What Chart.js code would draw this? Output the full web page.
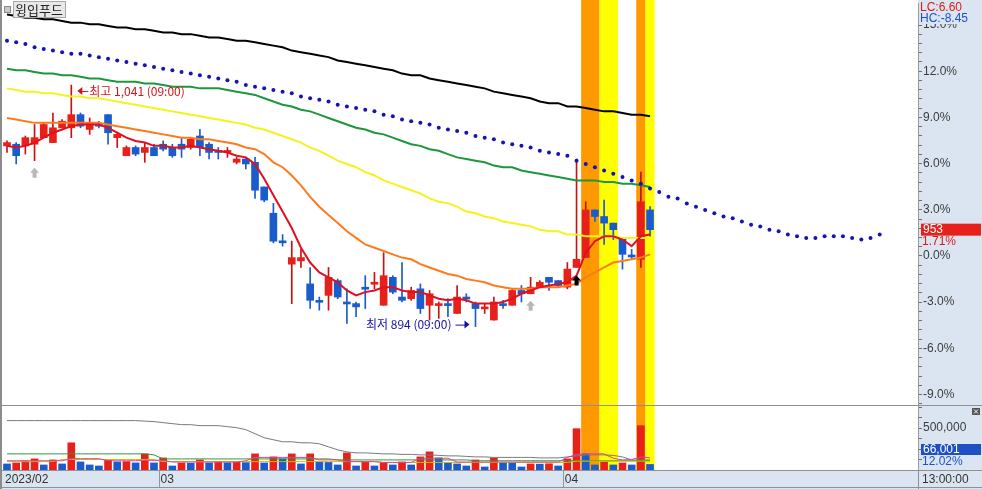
<!DOCTYPE html>
<html lang="ko">
<head>
<meta charset="utf-8">
<title>윙입푸드</title>
<script src="https://cdn.jsdelivr.net/npm/chart.js@4.4.1/dist/chart.umd.min.js"></script>
<style>
  html, body { margin: 0; padding: 0; background: #fff; }
  #wrap { position: relative; width: 982px; height: 489px; overflow: hidden; }
  #price { position: absolute; left: 0; top: 0; }
  #volume { position: absolute; left: 0; top: 406px; }
</style>
</head>
<body>
<div id="wrap">
  <canvas id="price" width="982" height="406"></canvas>
  <canvas id="volume" width="982" height="83"></canvas>
</div>
<script>
'use strict';
// chart values (prices in won, one entry per bar)
let stockName = '윙입푸드'
let basePrice = 937
let openP = [1004,1005,1004,1005,1009,1006,1015,1015,1023,1014, 1017,1023,1009,998,1003,1000,1003,1005,1003,1005, 1003,1010,1005,1001,1000,994,996,994,979,963, 946,932,934,920,910,913,922,909,908,918, 920,907,924,912,911,917,907,907,908,902, 912,908,905,898,908,907,916,914,918,924, 922,918,930,936,965,961,957,948,937,935, 965]
let highP = [1007,1006,1010,1017,1018,1024,1020,1041,1024,1021, 1019,1023,1012,1004,1004,1006,1005,1007,1005,1009, 1009,1014,1006,1003,1003,997,997,997,979,969, 950,946,941,930,912,930,923,917,909,925, 927,939,925,933,918,920,916,909,911,919, 914,909,908,912,910,917,919,924,922,924, 922,933,996,970,965,971,957,948,941,988, 967]
let lowP = [1000,993,999,995,1009,1006,1015,1009,1015,1011, 1015,1005,1003,998,998,994,998,1001,997,997, 1002,998,996,996,997,993,990,972,970,945, 943,908,930,905,904,904,911,896,900,905, 917,907,914,909,910,902,898,899,900,902, 909,894,902,898,905,907,909,914,918,916, 918,917,930,936,958,944,947,929,935,930, 949]
let closeP = [1006,998,1009,1009,1017,1015,1019,1023,1016,1018, 1016,1012,1011,1003,999,1003,998,1002,998,1002, 1008,1003,1000,1000,1001,996,993,977,971,946, 945,936,936,910,909,924,912,908,906,917, 921,925,915,910,916,905,914,908,907,912, 911,905,906,909,907,916,914,918,921,921, 919,929,935,965,961,957,953,938,936,970, 953]

// moving averages
let ma5 = [1004,1003,1004,1006,1009,1012,1014,1016,1017,1017, 1017,1015,1012,1009,1007,1006,1004,1004,1003,1003, 1004,1003,1002,1001,1000,998,997,993,984,974, 964,954,942,933,927,924,921,916,913,915, 916,918,918,916,915,915,913,911,910,911, 910,908,908,908,909,911,914,916,918,919, 920,921,925,939,946,949,949,947,943,949, 950]
let ma20 = [1021,1020,1019,1018,1018,1018,1018,1018,1018,1018, 1018,1017,1016,1015,1014,1013,1012,1011,1010,1009, 1009,1008,1008,1007,1006,1005,1003,1002,999,994, 991,986,980,973,967,962,957,952,948,944, 942,940,938,936,935,932,930,928,926,925, 923,922,921,919,918,917,917,917,918,918, 918,919,920,924,927,930,933,934,935,936, 938]
let ma60 = [1039,1038,1037,1037,1036,1036,1035,1034,1034,1033, 1033,1032,1031,1030,1029,1028,1027,1026,1025,1024, 1023,1022,1021,1020,1019,1018,1017,1015,1014,1012, 1010,1008,1006,1003,1001,998,995,993,991,988, 986,983,981,979,977,975,972,970,969,967, 964,963,961,960,958,957,956,955,953,952, 952,950,950,949,949,949,949,948,948,948, 948]
let ma120 = [1051,1050,1050,1049,1048,1048,1047,1047,1046,1045, 1045,1044,1043,1043,1043,1042,1042,1041,1040,1040, 1040,1039,1039,1039,1038,1037,1036,1035,1033,1031, 1029,1028,1026,1025,1023,1021,1019,1017,1015,1014, 1012,1011,1009,1007,1005,1004,1002,1001,999,997, 996,995,994,992,991,991,989,988,987,986, 985,984,983,983,983,982,982,981,981,980, 979]
let ma240 = [1084,1083,1082,1082,1081,1081,1080,1079,1079,1078, 1078,1077,1076,1076,1075,1075,1074,1073,1073,1072, 1072,1071,1070,1070,1069,1068,1068,1067,1066,1065, 1064,1062,1061,1060,1059,1058,1056,1055,1054,1053, 1052,1051,1050,1048,1047,1047,1045,1044,1043,1042, 1041,1040,1039,1037,1036,1035,1034,1033,1031,1030, 1030,1028,1028,1027,1026,1025,1025,1024,1023,1023, 1022]
// dotted line runs 25 bars past the last candle
let leadLine = [1068,1067,1066,1064,1063,1062,1061,1060,1060,1059, 1058,1057,1056,1055,1054,1053,1052,1051,1050,1049, 1048,1047,1046,1045,1044,1043,1041,1040,1039,1038, 1037,1036,1034,1033,1032,1031,1029,1028,1027,1026, 1025,1023,1022,1020,1019,1018,1017,1015,1014,1013, 1012,1010,1009,1008,1006,1005,1004,1003,1001,1000, 999,998,995,993,991,989,987,985,983,981, 978,976,973,972,969,967,965,963,961,960, 958,956,955,953,952,950,949,948,948,949, 949,949,948,947,948,950]

// volume
let volume = [72000,84000,108000,132000,60000,120000,72000,324000,96000,60000, 48000,120000,96000,100000,84000,192000,84000,144000,48000,84000, 80000,120000,84000,96000,86000,92000,88000,192000,84000,156000, 132000,192000,72000,192000,96000,90000,60000,204000,48000,96000, 48000,84000,60000,96000,60000,156000,216000,144000,84000,72000, 48000,120000,36000,144000,84000,80000,36000,72000,70000,74000, 48000,132000,492000,192000,60000,96000,60000,84000,60000,528000, 66001]
let volMaLong = [588000,588000,588000,588000,588000,588000,588000,588000,588000,588000, 588000,588000,588000,588000,588000,582000,576000,564000,552000,540000, 540000,528000,528000,528000,516000,504000,480000,432000,384000,360000, 336000,336000,324000,324000,312000,276000,240000,216000,204000,204000, 198000,192000,192000,186000,186000,180000,180000,174000,168000,168000, 162000,156000,156000,150000,150000,150000,150000,150000,144000,144000, 144000,156000,168000,180000,180000,180000,174000,156000,120000,120000, 120000]
let volMaGreen = [192000,192000,192000,192000,192000,192000,192000,192000,192000,192000, 192000,192000,192000,192000,192000,192000,180000,132000,132000,132000, 132000,132000,132000,132000,132000,132000,132000,132000,132000,132000, 132000,132000,132000,132000,132000,132000,120000,120000,120000,120000, 120000,120000,120000,120000,120000,120000,120000,120000,120000,120000, 120000,110000,110000,110000,110000,110000,110000,110000,110000,110000, 110000,110000,110000,110000,110000,110000,110000,110000,110000,110000, 110000]
let volMaYellow = [100000,100000,100000,100000,100000,100000,125000,125000,125000,125000, 125000,125000,125000,125000,125000,125000,125000,100000,100000,100000, 100000,100000,100000,100000,100000,100000,100000,100000,100000,100000, 100000,100000,100000,100000,100000,100000,100000,100000,100000,100000, 100000,90000,90000,90000,90000,90000,90000,90000,90000,90000, 90000,90000,90000,90000,90000,90000,90000,90000,90000,90000, 90000,90000,105000,105000,105000,105000,105000,105000,105000,105000, 105000]
let volMaPink = [110000,110000,110000,110000,110000,110000,110000,135000,135000,135000, 135000,110000,110000,110000,110000,115000,115000,115000,95000,95000, 95000,95000,95000,95000,95000,95000,110000,150000,150000,150000, 150000,150000,150000,150000,120000,120000,120000,100000,100000,100000, 100000,90000,90000,90000,90000,140000,140000,140000,140000,95000, 95000,95000,95000,95000,95000,95000,95000,95000,95000,95000, 95000,150000,185000,192000,192000,192000,140000,120000,125000,155000, 145000]

// axis ticks and labels
let priceTickValues = [15, 12, 9, 6, 3, 0, -3, -6, -9]
let priceTickLabels = ['15.0%', '12.0%', '9.0%', '6.0%', '3.0%', '0.0%', '-3.0%', '-6.0%', '-9.0%']
let volTickValues = [500000]
let volTickLabels = ['500,000']
let monthLabels = ['2023/02', '03', '04']
let monthStart = [0, 17, 61]
let timeLabel = '13:00:00'
let lcText = 'LC:6.60'
let hcText = 'HC:-8.45'
let volRateText = '12.02%'
let extremeTime = '09:00'

// highlighted bars (first and last bar of each band)
let bandFrom = [63, 65, 69, 70]
let bandTo = [64, 66, 69, 70]
let graySignals = [3, 57]
let blackSignals = [62]

// styles
let axisBg = '#dbe5f1'
let upRed = '#e8201a'
let downBlue = '#1a5ccc'
let bandColors = ['#ff9900', '#ffff00', '#ff9900', '#ffff00']
let labelFont = '12px "Liberation Sans"'
let xMin = -0.435
let xMax = 99.17

function pct(p) {
  return (p / basePrice - 1) * 100
}

function xy(list, conv) {
  return list.map((v, i) => ({ x: i, y: conv ? conv(v) : v }))
}

function comma(n) {
  return String(n).replace(/\B(?=(\d{3})+(?!\d))/g, ',')
}

function drawBands(chart) {
  let ctx = chart.ctx
  let x = chart.scales.x
  ctx.save()
  for (let b = 0; b < bandFrom.length; b++) {
    let x0 = x.getPixelForValue(bandFrom[b] - 0.5)
    let x1 = x.getPixelForValue(bandTo[b] + 0.5)
    ctx.fillStyle = bandColors[b]
    ctx.fillRect(x0, 0, x1 - x0, chart.chartArea.bottom)
  }
  ctx.restore()
}

function upArrow(ctx, cx, top, color) {
  ctx.fillStyle = color
  ctx.beginPath()
  ctx.moveTo(cx, top)
  ctx.lineTo(cx + 4.5, top + 5)
  ctx.lineTo(cx + 2, top + 5)
  ctx.lineTo(cx + 2, top + 10)
  ctx.lineTo(cx - 2, top + 10)
  ctx.lineTo(cx - 2, top + 5)
  ctx.lineTo(cx - 4.5, top + 5)
  ctx.closePath()
  ctx.fill()
}

let candleUp = closeP.map((c, i) => c >= openP[i])

// price panel decorations
const pricePlugin = {
  id: 'pricePlugin',
  beforeDraw(chart) {
    let ctx = chart.ctx
    let area = chart.chartArea
    ctx.save()
    ctx.fillStyle = '#fff'
    ctx.fillRect(0, 0, chart.width, chart.height)
    ctx.fillStyle = axisBg
    ctx.fillRect(area.right, 0, chart.width - area.right, chart.height)
    ctx.restore()
  },
  beforeDatasetsDraw(chart) {
    drawBands(chart)
  },
  afterDatasetsDraw(chart) {
    let ctx = chart.ctx
    let x = chart.scales.x
    let y = chart.scales.y
    ctx.save()
    for (let i of graySignals) {
      upArrow(ctx, x.getPixelForValue(i), y.getPixelForValue(pct(lowP[i])) + 7, '#b8b8b8')
    }
    for (let i of blackSignals) {
      upArrow(ctx, x.getPixelForValue(i), y.getPixelForValue(pct(lowP[i])) + 8, '#000')
    }

    // highest / lowest markers
    let hi = Math.max(...highP)
    let lo = Math.min(...lowP)
    let hiIdx = highP.indexOf(hi)
    let loIdx = lowP.indexOf(lo)
    ctx.font = '12px "Noto Sans CJK KR"'
    ctx.textBaseline = 'middle'

    let hx = x.getPixelForValue(hiIdx) + 6
    let hy = y.getPixelForValue(pct(hi)) + 6
    ctx.fillStyle = '#d4141c'
    ctx.strokeStyle = '#d4141c'
    ctx.beginPath()
    ctx.moveTo(hx, hy); ctx.lineTo(hx + 5, hy - 4); ctx.lineTo(hx + 5, hy + 4); ctx.closePath(); ctx.fill()
    ctx.beginPath(); ctx.moveTo(hx + 4, hy + 0.5); ctx.lineTo(hx + 11, hy + 0.5); ctx.stroke()
    ctx.textAlign = 'left'
    ctx.fillText('최고 ' + comma(hi) + ' (' + extremeTime + ')', hx + 12, hy)

    let lx = x.getPixelForValue(loIdx) - 6
    let ly = y.getPixelForValue(pct(lo)) - 2
    ctx.fillStyle = '#1414a0'
    ctx.strokeStyle = '#1414a0'
    ctx.beginPath()
    ctx.moveTo(lx, ly); ctx.lineTo(lx - 5, ly - 4); ctx.lineTo(lx - 5, ly + 4); ctx.closePath(); ctx.fill()
    ctx.beginPath(); ctx.moveTo(lx - 4, ly + 0.5); ctx.lineTo(lx - 14, ly + 0.5); ctx.stroke()
    ctx.textAlign = 'right'
    ctx.fillText('최저 ' + comma(lo) + ' (' + extremeTime + ')', lx - 18, ly)
    ctx.restore()
  },
  afterDraw(chart) {
    let ctx = chart.ctx
    let area = chart.chartArea
    let y = chart.scales.y
    ctx.save()

    // LC / HC labels over the top of the axis
    ctx.fillStyle = axisBg
    ctx.fillRect(area.right + 1, 0, chart.width - area.right - 1, 24)
    ctx.font = labelFont
    ctx.textBaseline = 'middle'
    ctx.textAlign = 'left'
    ctx.fillStyle = '#e01818'
    ctx.fillText(lcText, area.right + 2, 8)
    ctx.fillStyle = '#1e50c8'
    ctx.fillText(hcText, area.right + 2, 19)

    // last price box
    let last = closeP[closeP.length - 1]
    let py = y.getPixelForValue(pct(last))
    ctx.fillStyle = upRed
    ctx.fillRect(area.right + 3, py - 6, chart.width - area.right - 4, 12)
    ctx.fillStyle = '#fff'
    ctx.fillText(String(last), area.right + 5, py + 0.5)
    ctx.fillStyle = '#e01818'
    ctx.fillText(pct(last).toFixed(2) + '%', area.right + 4, py + 12)

    // title
    ctx.fillStyle = '#c8c8c8'
    ctx.fillRect(4.5, 6.5, 6, 6)
    ctx.strokeStyle = '#8a8a8a'
    ctx.strokeRect(4.5, 6.5, 6, 6)
    ctx.fillStyle = '#e8e8e8'
    ctx.fillRect(13.5, 1.5, 52, 16)
    ctx.strokeStyle = '#a8a8a8'
    ctx.strokeRect(13.5, 1.5, 52, 16)
    ctx.fillStyle = '#222'
    ctx.font = '13px "Noto Sans CJK KR"'
    ctx.fillText(stockName, 15, 10)

    // frame
    ctx.strokeStyle = '#909090'
    ctx.beginPath()
    ctx.moveTo(0, 405.5); ctx.lineTo(chart.width, 405.5)
    ctx.stroke()
    ctx.fillStyle = '#8c8c8c'
    ctx.fillRect(0, 0, 2, chart.height)
    ctx.restore()
  }
}

// volume panel decorations
const volumePlugin = {
  id: 'volumePlugin',
  beforeDraw(chart) {
    let ctx = chart.ctx
    let area = chart.chartArea
    ctx.save()
    ctx.fillStyle = '#fff'
    ctx.fillRect(0, 0, chart.width, chart.height)
    ctx.fillStyle = axisBg
    ctx.fillRect(area.right, 0, chart.width - area.right, chart.height)
    ctx.fillRect(0, 64, chart.width, chart.height - 64)
    ctx.restore()
  },
  beforeDatasetsDraw(chart) {
    drawBands(chart)
  },
  afterDraw(chart) {
    let ctx = chart.ctx
    let area = chart.chartArea
    let x = chart.scales.x
    ctx.save()
    ctx.strokeStyle = '#909090'
    ctx.beginPath()
    ctx.moveTo(0, 64.5); ctx.lineTo(chart.width, 64.5)
    ctx.moveTo(0, chart.height - 1.5); ctx.lineTo(chart.width, chart.height - 1.5)
    ctx.moveTo(area.right + 0.5, 64); ctx.lineTo(area.right + 0.5, chart.height)
    ctx.stroke()

    // month labels
    ctx.font = labelFont
    ctx.textBaseline = 'middle'
    ctx.textAlign = 'left'
    let mid = (64 + chart.height) / 2
    for (let m = 0; m < monthLabels.length; m++) {
      let sx = Math.max(area.left, x.getPixelForValue(monthStart[m] - 0.5))
      if (m > 0) {
        ctx.strokeStyle = '#8898a8'
        ctx.beginPath()
        ctx.moveTo(Math.round(sx) + 0.5, 64)
        ctx.lineTo(Math.round(sx) + 0.5, chart.height - 2)
        ctx.stroke()
      }
      ctx.fillStyle = '#333'
      ctx.fillText(monthLabels[m], sx + 2, mid)
    }
    ctx.fillText(timeLabel, area.right + 4, mid)

    // last volume box
    let lastVol = volume[volume.length - 1]
    ctx.fillStyle = '#1e4fc4'
    ctx.fillRect(area.right + 3, 38, chart.width - area.right - 4, 11)
    ctx.fillStyle = '#fff'
    ctx.fillText(comma(lastVol), area.right + 5, 44)
    ctx.fillStyle = '#1e50c8'
    ctx.fillText(volRateText, area.right + 4, 56)

    // close button
    ctx.fillStyle = '#555'
    ctx.fillRect(972, 2, 8, 7)
    ctx.strokeStyle = '#fff'
    ctx.beginPath()
    ctx.moveTo(974, 3.5); ctx.lineTo(978, 7.5)
    ctx.moveTo(978, 3.5); ctx.lineTo(974, 7.5)
    ctx.stroke()

    ctx.fillStyle = '#8c8c8c'
    ctx.fillRect(0, 0, 2, chart.height)
    ctx.restore()
  }
}

function fixedAxis(scale) {
  scale.width = 64
  scale.paddingTop = 0
  scale.paddingBottom = 0
}

// price chart
let priceChart = new Chart(document.getElementById('price'), {
  type: 'bar',
  data: {
    datasets: [
      { type: 'line', label: 'lead', data: xy(leadLine, pct), showLine: false, borderWidth: 0, pointRadius: 2, pointBorderWidth: 0, pointBackgroundColor: '#1414b4', order: 0 },
      { type: 'line', label: 'ma5', data: xy(ma5, pct), borderColor: '#e0101e', borderWidth: 2, pointRadius: 0, order: 1 },
      { type: 'line', label: 'ma20', data: xy(ma20, pct), borderColor: '#ff7a1e', borderWidth: 2, pointRadius: 0, order: 2 },
      { type: 'line', label: 'ma60', data: xy(ma60, pct), borderColor: '#f5f21e', borderWidth: 2, pointRadius: 0, order: 3 },
      { type: 'line', label: 'ma120', data: xy(ma120, pct), borderColor: '#1e963c', borderWidth: 2, pointRadius: 0, order: 4 },
      { type: 'line', label: 'ma240', data: xy(ma240, pct), borderColor: '#000', borderWidth: 2, pointRadius: 0, order: 5 },
      {
        label: 'body',
        data: openP.map((o, i) => ({ x: i, y: [pct(o), pct(closeP[i])] })),
        backgroundColor: candleUp.map(u => u ? upRed : downBlue),
        barThickness: 7, minBarLength: 2, grouped: false, order: 6
      },
      {
        label: 'wick',
        data: lowP.map((l, i) => ({ x: i, y: [pct(l), pct(highP[i])] })),
        backgroundColor: candleUp.map(u => u ? '#c81212' : downBlue),
        barThickness: 1, grouped: false, order: 7
      }
    ]
  },
  options: {
    responsive: false,
    animation: false,
    devicePixelRatio: 1,
    events: [],
    layout: { autoPadding: false, padding: { left: 3, top: 3, bottom: 1, right: 0 } },
    plugins: { legend: { display: false }, tooltip: { enabled: false } },
    scales: {
      x: { type: 'linear', min: xMin, max: xMax, offset: false, display: false },
      y: {
        position: 'right',
        min: -9.68,
        max: 16.43,
        bounds: 'data',
        afterFit: fixedAxis,
        afterBuildTicks(scale) {
          let ticks = []
          for (let k = -16; k <= 27; k++) ticks.push({ value: k * 0.6 })
          scale.ticks = ticks
        },
        grid: { drawOnChartArea: false, tickLength: 4, tickColor: '#707070' },
        border: { color: '#9a9a9a' },
        ticks: {
          autoSkip: false,
          padding: 1,
          color: '#3c3c3c',
          font: { family: 'Liberation Sans', size: 12 },
          callback(value) {
            let j = priceTickValues.indexOf(Math.round(value * 10) / 10)
            return j < 0 ? '' : priceTickLabels[j]
          }
        }
      }
    }
  },
  plugins: [pricePlugin]
})

// volume chart
let volChart = new Chart(document.getElementById('volume'), {
  type: 'bar',
  data: {
    datasets: [
      { type: 'line', label: 'vma5', data: xy(volMaPink), borderColor: '#e0409a', borderWidth: 1, pointRadius: 0, order: 0 },
      { type: 'line', label: 'vma20', data: xy(volMaYellow), borderColor: '#d2be00', borderWidth: 1, pointRadius: 0, order: 1 },
      { type: 'line', label: 'vma60', data: xy(volMaGreen), borderColor: '#2e9a3a', borderWidth: 1, pointRadius: 0, order: 2 },
      { type: 'line', label: 'vma120', data: xy(volMaLong), borderColor: '#7a7a7a', borderWidth: 1, pointRadius: 0, order: 3 },
      {
        label: 'volume',
        data: xy(volume),
        backgroundColor: volume.map((v, i) => (i > 0 && v > volume[i - 1]) ? upRed : downBlue),
        barThickness: 7, grouped: false, order: 4
      }
    ]
  },
  options: {
    responsive: false,
    animation: false,
    devicePixelRatio: 1,
    events: [],
    layout: { autoPadding: false, padding: { left: 3, top: 0, bottom: 19, right: 0 } },
    plugins: { legend: { display: false }, tooltip: { enabled: false } },
    scales: {
      x: { type: 'linear', min: xMin, max: xMax, offset: false, display: false },
      y: {
        position: 'right',
        min: 0,
        max: 762000,
        bounds: 'data',
        afterFit: fixedAxis,
        afterBuildTicks(scale) {
          let ticks = []
          for (let k = 1; k <= 6; k++) ticks.push({ value: k * 125000 })
          scale.ticks = ticks
        },
        grid: { drawOnChartArea: false, tickLength: 4, tickColor: '#707070' },
        border: { color: '#9a9a9a' },
        ticks: {
          autoSkip: false,
          padding: 1,
          color: '#3c3c3c',
          font: { family: 'Liberation Sans', size: 12 },
          callback(value) {
            let j = volTickValues.indexOf(value)
            return j < 0 ? '' : volTickLabels[j]
          }
        }
      }
    }
  },
  plugins: [volumePlugin]
})

// stretch the value axis so the wanted values land on the wanted pixel rows,
// whatever padding the layout ended up adding
function pinAxis(chart, topPx, topVal, bottomPx, bottomVal) {
  let area = chart.chartArea
  let perPx = (topVal - bottomVal) / (bottomPx - topPx)
  chart.options.scales.y.max = topVal + (topPx - area.top) * perPx
  chart.options.scales.y.min = bottomVal - (area.bottom - bottomPx) * perPx
  chart.update()
}
pinAxis(priceChart, 3, 16.43, 405, -9.68)
pinAxis(volChart, 0, 762000, 64, 0)
</script>
</body>
</html>
